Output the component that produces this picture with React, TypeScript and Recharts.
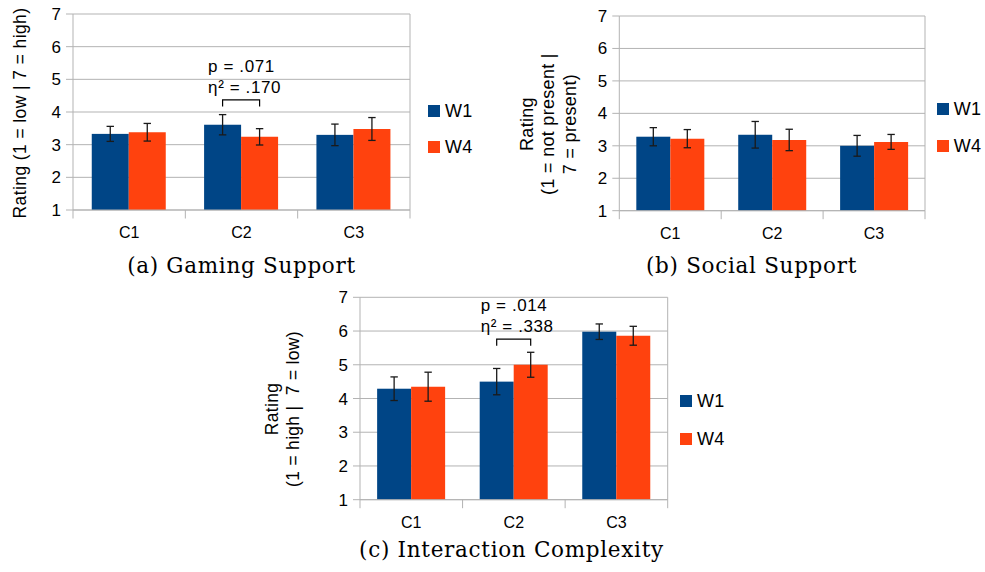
import React from 'react';
import { BarChart, Bar, XAxis, YAxis, CartesianGrid, ErrorBar, Legend } from 'recharts';

const categories = ['C1', 'C2', 'C3'];
const ratingTicks = [1, 2, 3, 4, 5, 6, 7];

// (a) Gaming Support
const gamingW1 = [3.33, 3.61, 3.3];
const gamingW1Err = [0.23, 0.31, 0.33];
const gamingW4 = [3.38, 3.24, 3.48];
const gamingW4Err = [0.27, 0.25, 0.35];

// (b) Social Support
const socialW1 = [3.28, 3.34, 3.0];
const socialW1Err = [0.28, 0.41, 0.32];
const socialW4 = [3.22, 3.18, 3.12];
const socialW4Err = [0.28, 0.33, 0.23];

// (c) Interaction Complexity
const interactionW1 = [4.29, 4.5, 5.98];
const interactionW1Err = [0.35, 0.39, 0.23];
const interactionW4 = [4.35, 5.0, 5.86];
const interactionW4Err = [0.43, 0.37, 0.28];

// significance brackets: category, stats, bracket height in rating units
const gamingNote = { category: 'C2', p: 'p = .071', eta: 'η² = .170', level: 4.37 };
const interactionNote = { category: 'C2', p: 'p = .014', eta: 'η² = .338', level: 5.76 };

const W1_COLOR = '#004586';
const W4_COLOR = '#ff420e';
const GRID = '#b3b3b3';
const FONT = '"Liberation Sans", Arial, sans-serif';
const SERIF = '"DejaVu Serif", serif';

type Note = { category: string; p: string; eta: string; level: number };

function buildRows(w1: number[], w1Err: number[], w4: number[], w4Err: number[]) {
  return categories.map((name, i) => ({ name, w1: w1[i], w1Err: w1Err[i], w4: w4[i], w4Err: w4Err[i] }));
}

// W1 bar; for the noted category it also draws the bracket to the W4 bar and the stats above it
function makeW1Shape(note?: Note) {
  return (props: any) => {
    const { x, y, width, height, fill, payload } = props;
    const bar = <rect x={x} y={y} width={width} height={height} fill={fill} />;
    if (!note || payload.name !== note.category) return bar;
    const perUnit = height / (payload.w1 - 1);
    const top = y + height - (note.level - 1) * perUnit;
    const x1 = x + width / 2;
    const x2 = x + width * 1.5;
    const textX = (x1 + x2) / 2 - 33;
    const textStyle = { fontFamily: FONT, fontSize: 17, letterSpacing: 0.6 };
    return (
      <g>
        {bar}
        <path d={`M${x1},${top + 6.5}V${top}H${x2}V${top + 6.5}`} fill="none" stroke="#000" strokeWidth={1.2} />
        <text x={textX} y={top - 28} fill="#000" style={textStyle}>{note.p}</text>
        <text x={textX} y={top - 7} fill="#000" style={textStyle}>{note.eta}</text>
      </g>
    );
  };
}

// category label plus the between-category tick marks below the axis
function CategoryTick(props: any) {
  const { x, y, payload, index } = props;
  const half = payload.offset ?? 0;
  const tickLen = 8.5;
  return (
    <g>
      <line x1={x - half} y1={y} x2={x - half} y2={y + tickLen} stroke={GRID} />
      {index === categories.length - 1 && (
        <line x1={x + half} y1={y} x2={x + half} y2={y + tickLen} stroke={GRID} />
      )}
      <text x={x} y={y + 28} textAnchor="middle" fill="#000" style={{ fontFamily: FONT, fontSize: 16 }}>
        {payload.value}
      </text>
    </g>
  );
}

function makeYLabel(lines: string[], dx: number, dy: number, fontSize: number, lineGap: number, spacing = 0) {
  return (props: any) => {
    const vb = props.viewBox;
    const cx = vb.x + vb.width + dx;
    const cy = vb.y + vb.height / 2 + dy;
    const firstX = cx - ((lines.length - 1) * lineGap) / 2;
    return (
      <text
        transform={`rotate(-90, ${firstX}, ${cy})`}
        x={firstX}
        y={cy}
        textAnchor="middle"
        dominantBaseline="central"
        fill="#000"
        style={{ fontFamily: FONT, fontSize, letterSpacing: spacing, whiteSpace: 'pre' }}
      >
        {lines.map((line, i) => (
          <tspan key={i} x={firstX} dy={i === 0 ? 0 : lineGap}>{line}</tspan>
        ))}
      </text>
    );
  };
}

function makeLegend(rowGap: number) {
  return (props: any) => (
    <div style={{ fontFamily: FONT }}>
      {(props.payload || []).map((item: any, i: number) => (
        <div key={item.value} style={{ display: 'flex', alignItems: 'center', height: 12, marginTop: i ? rowGap : 0 }}>
          <span style={{ width: 12, height: 12, background: item.color, marginRight: 5, flexShrink: 0 }} />
          <span style={{ fontSize: 18, lineHeight: '12px', letterSpacing: 0.3, color: '#000' }}>{item.value}</span>
        </div>
      ))}
    </div>
  );
}

interface PanelProps {
  rows: ReturnType<typeof buildRows>;
  width: number;
  height: number;
  margin: { top: number; right: number; left: number; bottom: number };
  yAxisWidth: number;
  xAxisHeight: number;
  yLabel: (props: any) => React.ReactElement;
  legendPos: { left: number; top: number; rowGap: number };
  note?: Note;
}

function RatingPanel({ rows, width, height, margin, yAxisWidth, xAxisHeight, yLabel, legendPos, note }: PanelProps) {
  return (
    <BarChart width={width} height={height} data={rows} margin={margin} barCategoryGap="16.7%" barGap={0}>
      <CartesianGrid
        stroke={GRID}
        verticalCoordinatesGenerator={(p: any) => (p && p.offset ? [p.offset.left + p.offset.width] : [])}
      />
      <XAxis
        dataKey="name"
        height={xAxisHeight}
        interval={0}
        tickLine={false}
        tickSize={0}
        tickMargin={0}
        axisLine={{ stroke: GRID }}
        tick={<CategoryTick />}
      />
      <YAxis
        type="number"
        domain={[1, 7]}
        ticks={ratingTicks}
        interval={0}
        width={yAxisWidth}
        tickSize={7}
        tickMargin={5}
        axisLine={{ stroke: GRID }}
        tickLine={{ stroke: GRID }}
        tick={{ fill: '#000', fontSize: 17, fontFamily: FONT }}
        label={{ content: yLabel }}
      />
      <Legend
        layout="vertical"
        align="center"
        verticalAlign="middle"
        wrapperStyle={{ left: legendPos.left, top: legendPos.top, width: 'auto', height: 'auto' }}
        content={makeLegend(legendPos.rowGap)}
      />
      <Bar dataKey="w1" name="W1" fill={W1_COLOR} isAnimationActive={false} shape={makeW1Shape(note)}>
        <ErrorBar dataKey="w1Err" direction="y" width={3.7} stroke="#1a1a1a" strokeWidth={1.3} isAnimationActive={false} />
      </Bar>
      <Bar dataKey="w4" name="W4" fill={W4_COLOR} isAnimationActive={false}>
        <ErrorBar dataKey="w4Err" direction="y" width={3.7} stroke="#1a1a1a" strokeWidth={1.3} isAnimationActive={false} />
      </Bar>
    </BarChart>
  );
}

const captionStyle: React.CSSProperties = {
  position: 'absolute',
  width: 320,
  textAlign: 'center',
  fontFamily: SERIF,
  fontSize: 21.5,
  lineHeight: '24px',
  letterSpacing: 0.7,
  color: '#000',
};

export default function App() {
  return (
    <div style={{ position: 'absolute', left: 0, top: 0, width: 985, height: 572, background: '#fff', fontFamily: FONT }}>
      <div style={{ position: 'absolute', left: 0, top: 0 }}>
        <RatingPanel
          rows={buildRows(gamingW1, gamingW1Err, gamingW4, gamingW4Err)}
          width={480}
          height={245}
          margin={{ top: 14, right: 70, left: 0, bottom: 0 }}
          yAxisWidth={73}
          xAxisHeight={35}
          yLabel={makeYLabel(['Rating (1 = low | 7 = high)'], -53, 1, 17.5, 0, 0.4)}
          legendPos={{ left: 428, top: 105, rowGap: 24 }}
          note={gamingNote}
        />
      </div>
      <div style={{ position: 'absolute', left: 500, top: 0 }}>
        <RatingPanel
          rows={buildRows(socialW1, socialW1Err, socialW4, socialW4Err)}
          width={485}
          height={245}
          margin={{ top: 16, right: 60, left: 0, bottom: 0 }}
          yAxisWidth={119.3}
          xAxisHeight={34.3}
          yLabel={makeYLabel(['Rating', '(1 = not present |', '7 = present)'], -71, 10.7, 18, 21.7, 0.3)}
          legendPos={{ left: 436.7, top: 103, rowGap: 25 }}
        />
      </div>
      <div style={{ position: 'absolute', left: 250, top: 280 }}>
        <RatingPanel
          rows={buildRows(interactionW1, interactionW1Err, interactionW4, interactionW4Err)}
          width={480}
          height={250}
          margin={{ top: 17.3, right: 62.3, left: 0, bottom: 0 }}
          yAxisWidth={110}
          xAxisHeight={30.3}
          yLabel={makeYLabel(['Rating', '(1 = high |  7 = low)'], -77.5, 10.5, 17.5, 21.6, 0.3)}
          legendPos={{ left: 430, top: 115, rowGap: 26 }}
          note={interactionNote}
        />
      </div>
      <div style={{ ...captionStyle, left: 241.5 - 160, top: 254 }}>(a) Gaming Support</div>
      <div style={{ ...captionStyle, left: 751.5 - 160, top: 254 }}>(b) Social Support</div>
      <div style={{ ...captionStyle, left: 511.5 - 160, top: 537.7 }}>(c) Interaction Complexity</div>
    </div>
  );
}
